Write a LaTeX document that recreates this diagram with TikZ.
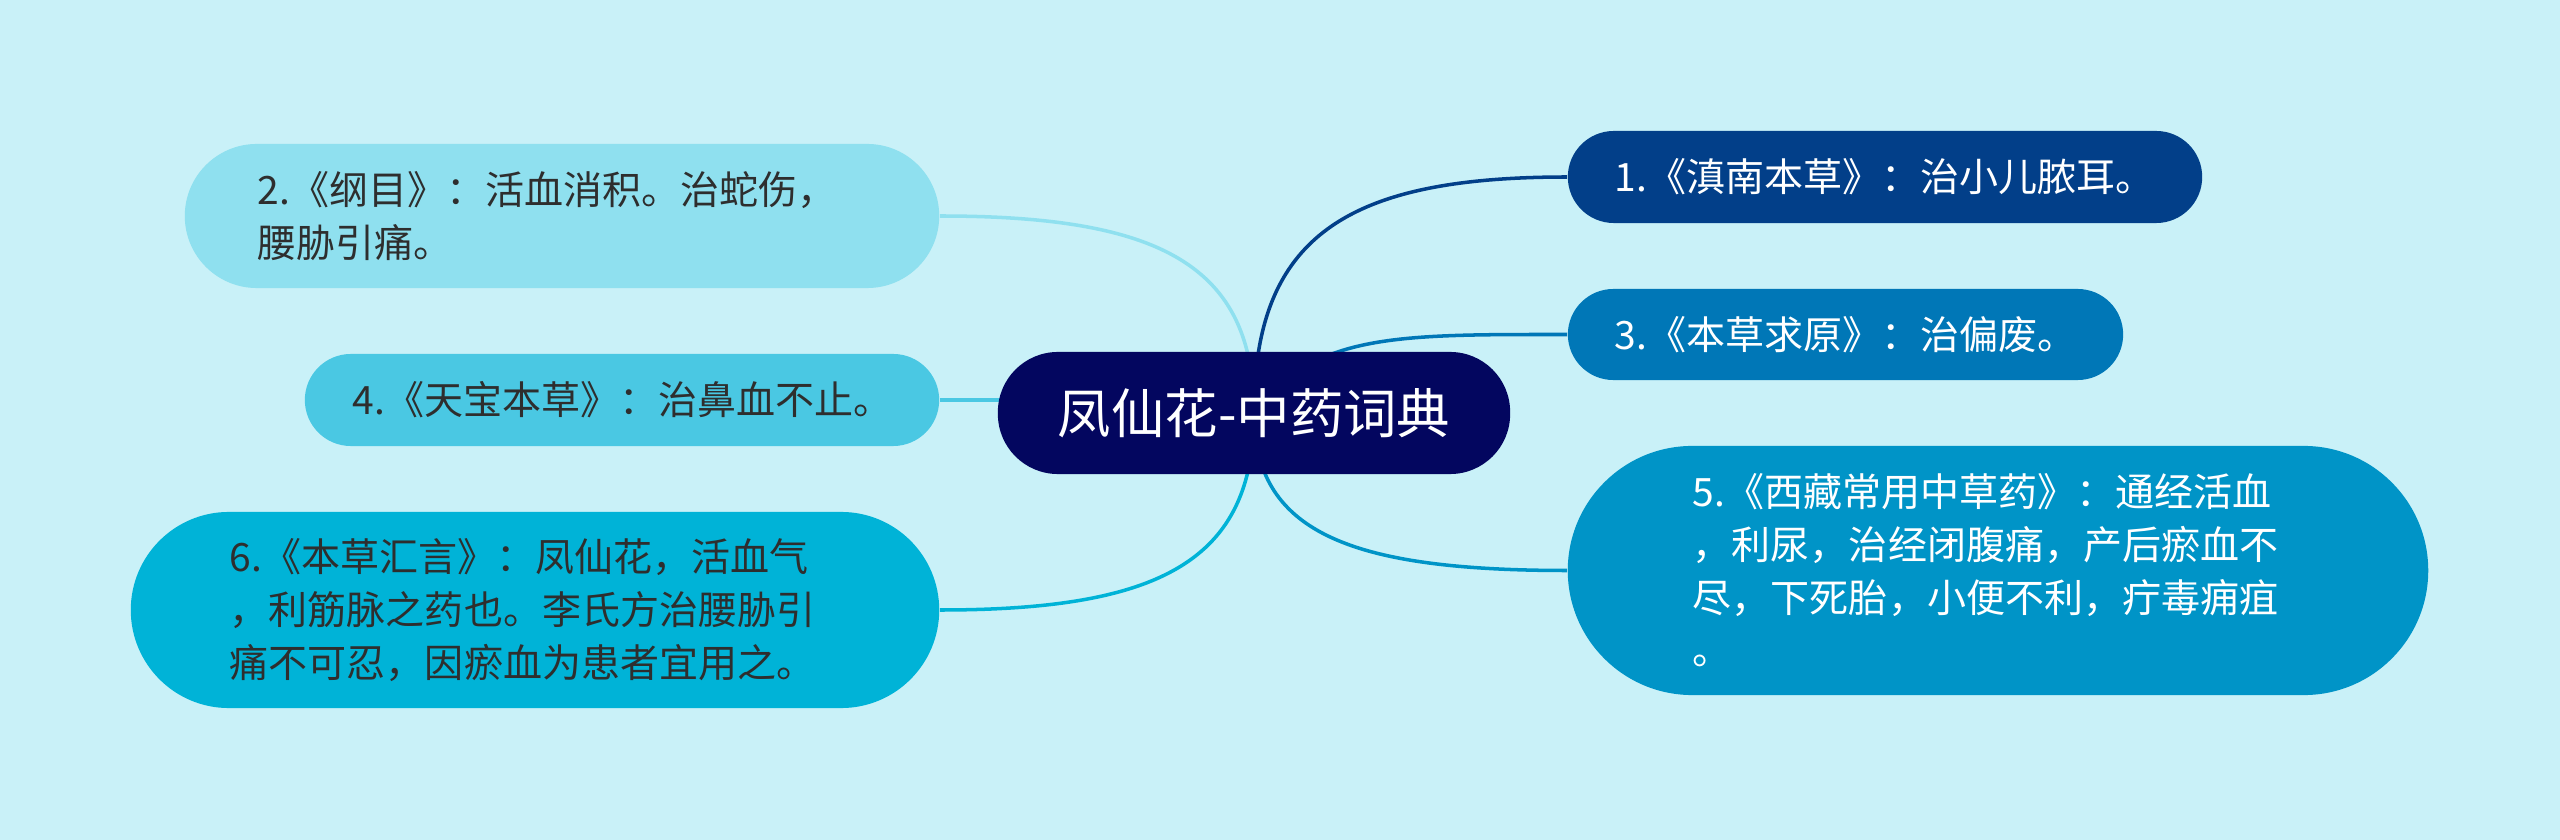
\documentclass[tikz,border=0pt]{standalone}
\usepackage{fontspec}
\setmainfont{Noto Sans CJK SC}
\usepackage{tikz}
\usetikzlibrary{backgrounds,calc}

\definecolor{bgcyan}{HTML}{C9F1F8}
\definecolor{rootnavy}{HTML}{03065F}
\definecolor{blueA}{HTML}{023F89}
\definecolor{blueB}{HTML}{0077B7}
\definecolor{blueC}{HTML}{0094C7}
\definecolor{cyanA}{HTML}{8FE0EF}
\definecolor{cyanB}{HTML}{4AC8E3}
\definecolor{cyanC}{HTML}{00B3D7}
\definecolor{inkgray}{HTML}{2E2E2E}

\begin{document}
\begin{tikzpicture}[
    x=0.01cm, y=-0.01cm,
    root/.style={rectangle, fill=rootnavy, text=white, minimum width=5.12cm, minimum height=1.22cm, rounded corners=0.6cm, font=\fontsize{15.2pt}{18pt}\selectfont},
    leaf/.style n args={3}{rectangle, minimum width=#1cm, minimum height=#2cm, rounded corners=#2*0.5cm, text width=#3cm, inner xsep=0pt, align=left, font=\fontsize{11.1pt}{15pt}\selectfont},
    dark/.style={text=white},
    light/.style={text=inkgray},
    link/.style={line width=1pt},
]
    \node[root] (c) at (1254,413) {凤仙花-中药词典};

    % right side
    \node[leaf={6.34}{0.92}{5.40}, dark, fill=blueA] (n1) at (1885,177) {1.《滇南本草》：治小儿脓耳。};
    \node[leaf={5.55}{0.91}{4.61}, dark, fill=blueB] (n3) at (1845.5,334.5) {3.《本草求原》：治偏废。};
    \node[leaf={8.60}{2.49}{6.10}, dark, fill=blueC] (n5) at (1998,570.5) {5.《西藏常用中草药》：通经活血\\，利尿，治经闭腹痛，产后瘀血不\\尽，下死胎，小便不利，疔毒痈疽\\。};

    % left side
    \node[leaf={7.54}{1.44}{6.08}, light, fill=cyanA] (n2) at (562,216) {2.《纲目》：活血消积。治蛇伤，\\腰胁引痛。};
    \node[leaf={6.34}{0.92}{5.38}, light, fill=cyanB] (n4) at (622,400) {4.《天宝本草》：治鼻血不止。};
    \node[leaf={8.08}{1.96}{6.10}, light, fill=cyanC] (n6) at (535,610) {6.《本草汇言》：凤仙花，活血气\\，利筋脉之药也。李氏方治腰胁引\\痛不可忍，因瘀血为患者宜用之。};

    \begin{scope}[on background layer]
        \fill[bgcyan] (0,0) rectangle (2560,840);
        \draw[link, blueA] (c.center) .. controls +(0,-177) and +(-220,0) .. (n1.west);
        \draw[link, blueB] (c.center) .. controls +(60,-80) and +(-170,0) .. (n3.west);
        \draw[link, blueC] (c.center) .. controls +(0,118) and +(-220,0) .. (n5.west);
        \draw[link, cyanA] (c.center) .. controls +(0,-148) and +(220,0) .. (n2.east);
        \draw[link, cyanB] (n4.east) -- (n4.east -| c.center);
        \draw[link, cyanC] (c.center) .. controls +(0,148) and +(220,0) .. (n6.east);
    \end{scope}
\end{tikzpicture}
\end{document}
